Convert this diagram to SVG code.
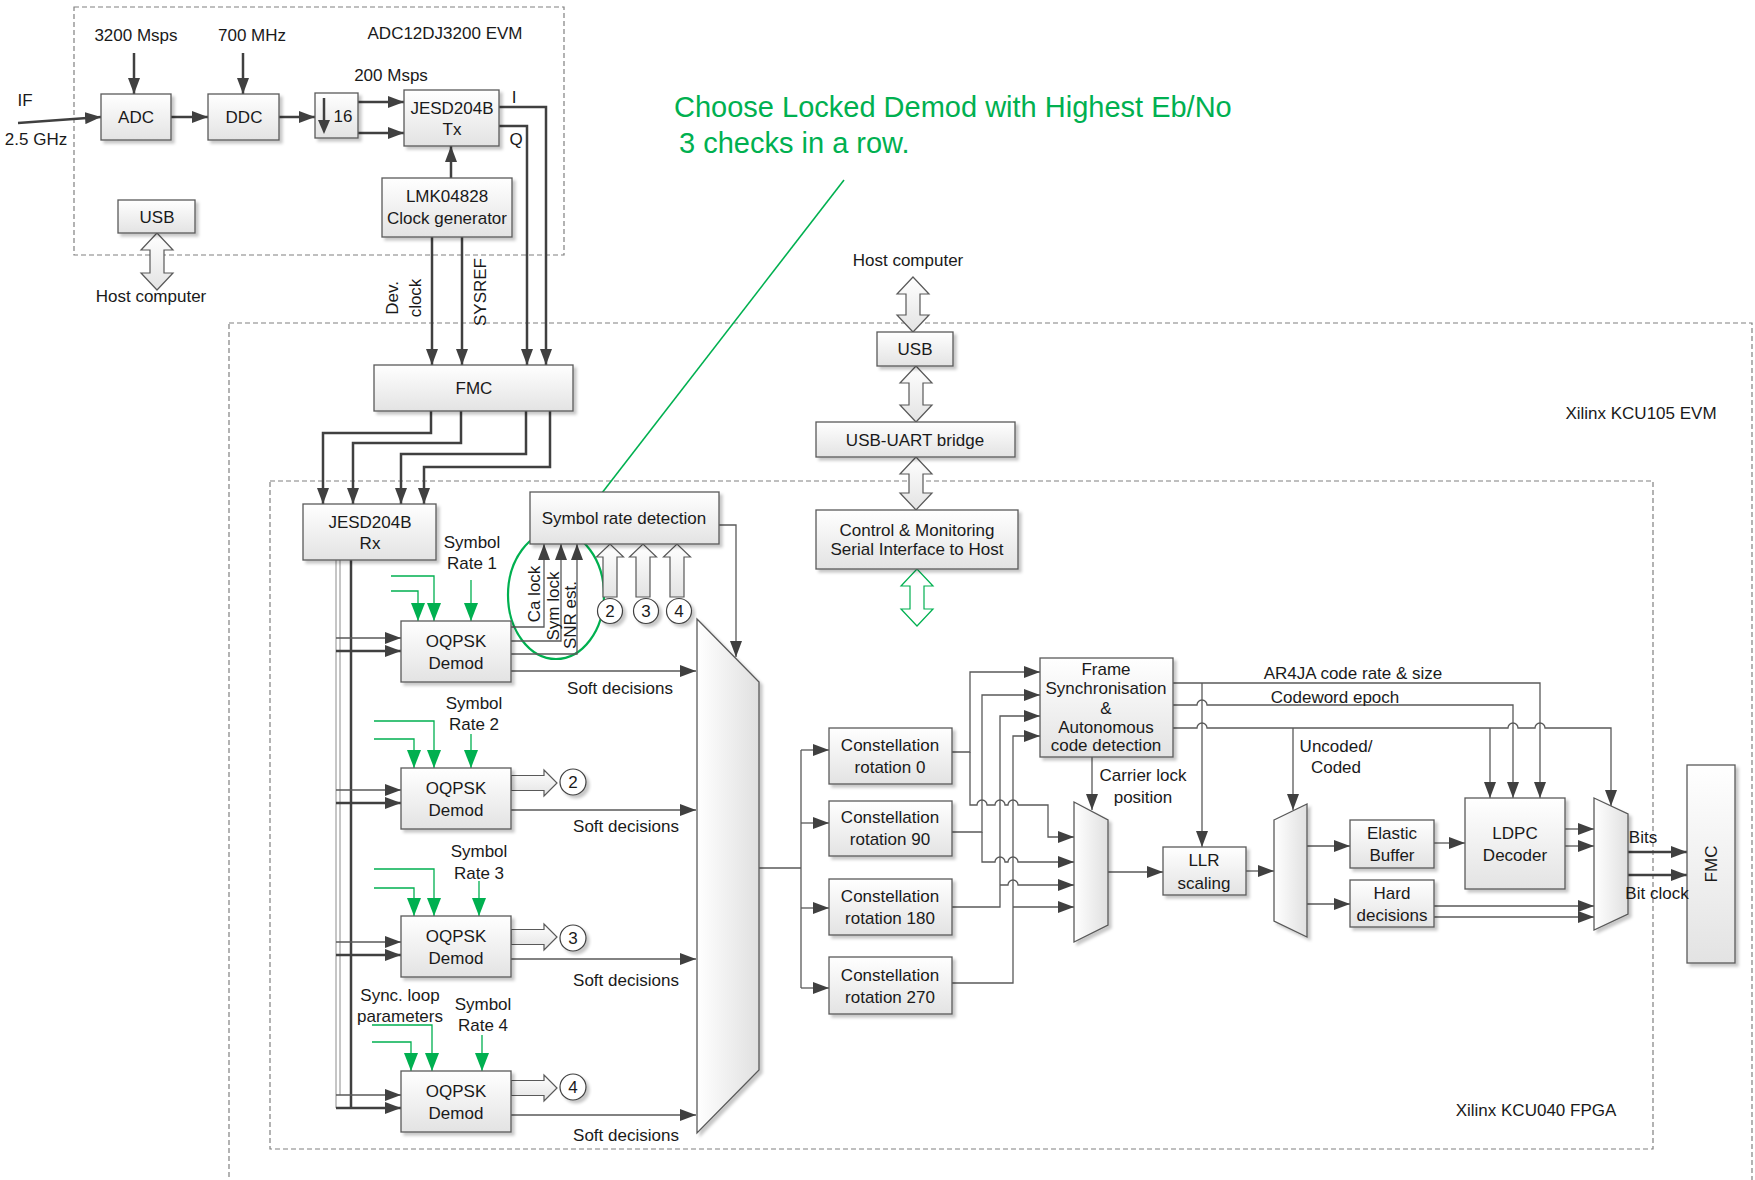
<svg xmlns="http://www.w3.org/2000/svg" width="1755" height="1180" viewBox="0 0 1755 1180">
<defs>
<linearGradient id="gBox" x1="0" y1="0" x2="0" y2="1"><stop offset="0" stop-color="#ffffff"/><stop offset="1" stop-color="#e3e3e3"/></linearGradient>
<linearGradient id="gMux" x1="0" y1="0" x2="1" y2="0"><stop offset="0" stop-color="#ffffff"/><stop offset="1" stop-color="#e0e0e0"/></linearGradient>
<filter id="sh" x="-10%" y="-10%" width="130%" height="130%"><feDropShadow dx="3" dy="3" stdDeviation="1.5" flood-color="#000" flood-opacity="0.22"/></filter>
<marker id="a" markerUnits="userSpaceOnUse" markerWidth="16" markerHeight="12" refX="16" refY="6" orient="auto"><path d="M0,0 L16,6 L0,12 z" fill="#404040"/></marker>
<marker id="ag" markerUnits="userSpaceOnUse" markerWidth="18" markerHeight="14" refX="18" refY="7" orient="auto"><path d="M0,0 L18,7 L0,14 z" fill="#00b050"/></marker>
<style>
.box{fill:url(#gBox);stroke:#595959;stroke-width:1.3;filter:url(#sh)}
.mux{fill:url(#gMux);stroke:#595959;stroke-width:1.3;filter:url(#sh)}
.hol{fill:url(#gBox);stroke:#595959;stroke-width:1.2}
.cir{fill:#fff;stroke:#404040;stroke-width:1.2;filter:url(#sh)}
.t{font-family:"Liberation Sans",Arial,sans-serif;font-size:17px;fill:#1a1a1a;text-anchor:middle;dominant-baseline:central}
.c{fill:none;stroke:#595959;stroke-width:1.3}
.ck{fill:none;stroke:#404040;stroke-width:2.5}
.bt{fill:none;stroke:#8c8c8c;stroke-width:1}
.g{fill:none;stroke:#00b050;stroke-width:1.3}
.dash{fill:none;stroke:#808080;stroke-width:1.2;stroke-dasharray:5 3}
.title{font-family:"Liberation Sans",Arial,sans-serif;font-size:29px;fill:#00b050}
</style>
</defs>
<rect width="1755" height="1180" fill="#ffffff"/>

<g id="containers">
<rect class="dash" x="74" y="7" width="490" height="248"/>
<text class="t" x="445" y="33">ADC12DJ3200 EVM</text>
<rect class="dash" x="229" y="323" width="1523" height="880"/>
<text class="t" x="1641" y="413">Xilinx KCU105 EVM</text>
<rect class="dash" x="270" y="481" width="1383" height="668"/>
<text class="t" x="1536" y="1110">Xilinx KCU040 FPGA</text>
</g>

<g id="annotation">
<text class="title" x="674" y="117">Choose Locked Demod with Highest Eb/No</text>
<text class="title" x="679" y="153">3 checks in a row.</text>
<line x1="571" y1="533" x2="844" y2="180" stroke="#00b050" stroke-width="1.6"/>
<ellipse cx="556" cy="595" rx="48" ry="64" fill="none" stroke="#00b050" stroke-width="2.2"/>
</g>

<g id="connectors">
<path class="ck" d="M134,53 V94" marker-end="url(#a)"/>
<path class="ck" d="M243,53 V94" marker-end="url(#a)"/>
<path class="ck" d="M18,123 L101,117" marker-end="url(#a)"/>
<path class="ck" d="M171,117 H208" marker-end="url(#a)"/>
<path class="ck" d="M279,117 H315" marker-end="url(#a)"/>
<path class="ck" d="M358,102 H404" marker-end="url(#a)"/>
<path class="ck" d="M358,133 H404" marker-end="url(#a)"/>
<path class="ck" d="M451,178 V146" marker-end="url(#a)"/>
<path class="ck" d="M499,107 H546 V365" marker-end="url(#a)"/>
<path class="ck" d="M499,126 H527 V365" marker-end="url(#a)"/>
<path class="ck" d="M432,237 V365" marker-end="url(#a)"/>
<path class="ck" d="M462,237 V365" marker-end="url(#a)"/>
<path class="ck" d="M431,411 V433 H323 V504" marker-end="url(#a)"/>
<path class="ck" d="M461,411 V443 H353 V504" marker-end="url(#a)"/>
<path class="ck" d="M526,411 V454 H401 V504" marker-end="url(#a)"/>
<path class="ck" d="M550,411 V467 H424 V504" marker-end="url(#a)"/>

<path class="bt" d="M336,560 V1108 M340,560 V1095"/>
<path class="ck" d="M351,560 V1108"/>
<path class="c" d="M336,638 H401" marker-end="url(#a)"/>
<path class="c" d="M336,790 H401" marker-end="url(#a)"/>
<path class="c" d="M336,942 H401" marker-end="url(#a)"/>
<path class="c" d="M336,1095 H401" marker-end="url(#a)"/>
<path class="ck" d="M336,651 H401" marker-end="url(#a)"/>
<path class="ck" d="M336,803 H401" marker-end="url(#a)"/>
<path class="ck" d="M336,955 H401" marker-end="url(#a)"/>
<path class="ck" d="M336,1108 H401" marker-end="url(#a)"/>

<path class="g" d="M391,576 H434 V621" marker-end="url(#ag)"/>
<path class="g" d="M391,591 H418 V621" marker-end="url(#ag)"/>
<path class="g" d="M471,580 V621" marker-end="url(#ag)"/>
<path class="g" d="M374,721 H434 V768" marker-end="url(#ag)"/>
<path class="g" d="M374,739 H414 V768" marker-end="url(#ag)"/>
<path class="g" d="M471,734 V768" marker-end="url(#ag)"/>
<path class="g" d="M374,869 H434 V916" marker-end="url(#ag)"/>
<path class="g" d="M374,888 H414 V916" marker-end="url(#ag)"/>
<path class="g" d="M479,881 V916" marker-end="url(#ag)"/>
<path class="g" d="M372,1025 H432 V1071" marker-end="url(#ag)"/>
<path class="g" d="M372,1042 H411 V1071" marker-end="url(#ag)"/>
<path class="g" d="M482,1035 V1071" marker-end="url(#ag)"/>

<path class="c" d="M511,627 H544 V544" marker-end="url(#a)"/>
<path class="c" d="M511,641 H561 V544" marker-end="url(#a)"/>
<path class="c" d="M511,654 H577 V544" marker-end="url(#a)"/>
<path class="c" d="M511,671 H696" marker-end="url(#a)"/>
<path class="c" d="M511,810 H696" marker-end="url(#a)"/>
<path class="c" d="M511,959 H696" marker-end="url(#a)"/>
<path class="c" d="M511,1115 H696" marker-end="url(#a)"/>
<path class="c" d="M719,525 H736 V657" marker-end="url(#a)"/>

<path class="c" d="M759,868 H801 M801,750 V988"/>
<path class="c" d="M801,750 H829" marker-end="url(#a)"/>
<path class="c" d="M801,823 H829" marker-end="url(#a)"/>
<path class="c" d="M801,908 H829" marker-end="url(#a)"/>
<path class="c" d="M801,988 H829" marker-end="url(#a)"/>

<path class="c" d="M952,752 H970 V672 H1040" marker-end="url(#a)"/>
<path class="c" d="M970,752 V805 H977 a5,5 0 0 1 10,0 H995 a5,5 0 0 1 10,0 H1008 a5,5 0 0 1 10,0 H1048 V837 H1074" marker-end="url(#a)"/>
<path class="c" d="M952,832 H982 V695 H1040" marker-end="url(#a)"/>
<path class="c" d="M982,832 V862 H995 a5,5 0 0 1 10,0 H1008 a5,5 0 0 1 10,0 H1074" marker-end="url(#a)"/>
<path class="c" d="M952,907 H1000 V716 H1040" marker-end="url(#a)"/>
<path class="c" d="M1000,885 H1008 a5,5 0 0 1 10,0 H1074" marker-end="url(#a)"/>
<path class="c" d="M952,983 H1013 V736 H1040" marker-end="url(#a)"/>
<path class="c" d="M1013,907 H1074" marker-end="url(#a)"/>

<path class="c" d="M1092,757 V810" marker-end="url(#a)"/>
<path class="c" d="M1108,872 H1163" marker-end="url(#a)"/>
<path class="c" d="M1173,683 H1540 V798" marker-end="url(#a)"/>
<path class="c" d="M1202,683 V847" marker-end="url(#a)"/>
<path class="c" d="M1173,705 H1197 a5,5 0 0 1 10,0 H1513 V798" marker-end="url(#a)"/>
<path class="c" d="M1173,728 H1197 a5,5 0 0 1 10,0 H1508 a5,5 0 0 1 10,0 H1535 a5,5 0 0 1 10,0 H1611 V806" marker-end="url(#a)"/>
<path class="c" d="M1293,728 V810" marker-end="url(#a)"/>
<path class="c" d="M1490,728 V798" marker-end="url(#a)"/>
<path class="c" d="M1246,871 H1274" marker-end="url(#a)"/>
<path class="c" d="M1307,846 H1350" marker-end="url(#a)"/>
<path class="c" d="M1307,904 H1350" marker-end="url(#a)"/>
<path class="c" d="M1434,843 H1465" marker-end="url(#a)"/>
<path class="c" d="M1565,829 H1594" marker-end="url(#a)"/>
<path class="c" d="M1565,846 H1594" marker-end="url(#a)"/>
<path class="c" d="M1434,906 H1594" marker-end="url(#a)"/>
<path class="c" d="M1434,917 H1594" marker-end="url(#a)"/>
<path class="ck" d="M1628,852 H1687" marker-end="url(#a)"/>
<path class="ck" d="M1628,875 H1687" marker-end="url(#a)"/>

<polygon class="hol" points="157,233 173,250 164,250 164,273 173,273 157,290 141,273 150,273 150,250 141,250"/>
<polygon class="hol" points="913,277 929,294 920,294 920,315 929,315 913,332 897,315 906,315 906,294 897,294"/>
<polygon class="hol" points="916,366 932,383 923,383 923,405 932,405 916,422 900,405 909,405 909,383 900,383"/>
<polygon class="hol" points="916,457 932,474 923,474 923,493 932,493 916,510 900,493 909,493 909,474 900,474"/>
<polygon points="917,569 933,586 924,586 924,609 933,609 917,626 901,609 910,609 910,586 901,586" fill="#fff" stroke="#00b050" stroke-width="1.2"/>
<polygon class="hol" points="603,597 603,557 596.5,557 610,544 623.5,557 617,557 617,597"/>
<polygon class="hol" points="636,597 636,557 629.5,557 643,544 656.5,557 650,557 650,597"/>
<polygon class="hol" points="670,597 670,557 663.5,557 677,544 690.5,557 684,557 684,597"/>
<polygon class="hol" points="511,775.5 544,775.5 544,770 557,783 544,796 544,790.5 511,790.5"/>
<polygon class="hol" points="511,929.5 544,929.5 544,924 557,937 544,950 544,944.5 511,944.5"/>
<polygon class="hol" points="511,1080.5 544,1080.5 544,1075 557,1088 544,1101 544,1095.5 511,1095.5"/>
</g>

<g id="adc"><rect class="box" x="101" y="94" width="70" height="46"/><text class="t" x="136" y="117">ADC</text></g>
<g id="ddc"><rect class="box" x="208" y="94" width="71" height="46"/><text class="t" x="244" y="117">DDC</text></g>
<g id="decim"><rect class="box" x="315" y="93" width="43" height="45"/><path d="M324,98 V121" stroke="#404040" stroke-width="2.5"/><path d="M318,120 L330,120 L324,134 z" fill="#404040"/><text class="t" x="343" y="116">16</text></g>
<g id="jesd-tx"><rect class="box" x="404" y="90" width="95" height="56"/><text class="t" x="452" y="108">JESD204B</text><text class="t" x="452" y="129">Tx</text></g>
<g id="lmk"><rect class="box" x="382" y="178" width="130" height="59"/><text class="t" x="447" y="196">LMK04828</text><text class="t" x="447" y="218">Clock generator</text></g>
<g id="usb-adc"><rect class="box" x="118" y="200" width="77" height="33"/><text class="t" x="157" y="217">USB</text></g>
<g id="fmc-top"><rect class="box" x="374" y="365" width="199" height="46"/><text class="t" x="474" y="388">FMC</text></g>
<g id="jesd-rx"><rect class="box" x="303" y="504" width="133" height="56"/><text class="t" x="370" y="522">JESD204B</text><text class="t" x="370" y="543">Rx</text></g>
<g id="srd"><rect class="box" x="530" y="492" width="189" height="52"/><text class="t" x="624" y="518">Symbol rate detection</text></g>
<g id="usb-kcu"><rect class="box" x="877" y="332" width="76" height="34"/><text class="t" x="915" y="349">USB</text></g>
<g id="uart"><rect class="box" x="816" y="422" width="199" height="35"/><text class="t" x="915" y="440">USB-UART bridge</text></g>
<g id="ctrl"><rect class="box" x="816" y="510" width="202" height="59"/><text class="t" x="917" y="530">Control &amp; Monitoring</text><text class="t" x="917" y="549">Serial Interface to Host</text></g>

<g id="demod1"><rect class="box" x="401" y="621" width="110" height="61"/><text class="t" x="456" y="641">OQPSK</text><text class="t" x="456" y="663">Demod</text></g>
<g id="demod2"><rect class="box" x="401" y="768" width="110" height="61"/><text class="t" x="456" y="788">OQPSK</text><text class="t" x="456" y="810">Demod</text></g>
<g id="demod3"><rect class="box" x="401" y="916" width="110" height="61"/><text class="t" x="456" y="936">OQPSK</text><text class="t" x="456" y="958">Demod</text></g>
<g id="demod4"><rect class="box" x="401" y="1071" width="110" height="61"/><text class="t" x="456" y="1091">OQPSK</text><text class="t" x="456" y="1113">Demod</text></g>

<g id="c2"><circle class="cir" cx="610" cy="611" r="12.5"/><text class="t" x="610" y="611">2</text></g>
<g id="c3"><circle class="cir" cx="646" cy="611" r="12.5"/><text class="t" x="646" y="611">3</text></g>
<g id="c4"><circle class="cir" cx="679" cy="611" r="12.5"/><text class="t" x="679" y="611">4</text></g>
<g id="c2b"><circle class="cir" cx="573" cy="782" r="13"/><text class="t" x="573" y="782">2</text></g>
<g id="c3b"><circle class="cir" cx="573" cy="938" r="13"/><text class="t" x="573" y="938">3</text></g>
<g id="c4b"><circle class="cir" cx="573" cy="1087" r="13"/><text class="t" x="573" y="1087">4</text></g>

<g id="mux1"><polygon class="mux" points="697,619 759,682 759,1070 697,1133"/></g>
<g id="rot0"><rect class="box" x="829" y="728" width="123" height="56"/><text class="t" x="890" y="745">Constellation</text><text class="t" x="890" y="767">rotation 0</text></g>
<g id="rot90"><rect class="box" x="829" y="801" width="123" height="55"/><text class="t" x="890" y="817">Constellation</text><text class="t" x="890" y="839">rotation 90</text></g>
<g id="rot180"><rect class="box" x="829" y="879" width="123" height="56"/><text class="t" x="890" y="896">Constellation</text><text class="t" x="890" y="918">rotation 180</text></g>
<g id="rot270"><rect class="box" x="829" y="957" width="123" height="57"/><text class="t" x="890" y="975">Constellation</text><text class="t" x="890" y="997">rotation 270</text></g>
<g id="framesync"><rect class="box" x="1040" y="658" width="133" height="99"/><text class="t" x="1106" y="669">Frame</text><text class="t" x="1106" y="688">Synchronisation</text><text class="t" x="1106" y="708">&amp;</text><text class="t" x="1106" y="727">Autonomous</text><text class="t" x="1106" y="745">code detection</text></g>
<g id="mux2"><polygon class="mux" points="1074,802 1108,820 1108,925 1074,942"/></g>
<g id="llr"><rect class="box" x="1163" y="847" width="83" height="48"/><text class="t" x="1204" y="860">LLR</text><text class="t" x="1204" y="883">scaling</text></g>
<g id="mux3"><polygon class="mux" points="1274,820 1307,804 1307,937 1274,921"/></g>
<g id="elastic"><rect class="box" x="1350" y="820" width="84" height="48"/><text class="t" x="1392" y="833">Elastic</text><text class="t" x="1392" y="855">Buffer</text></g>
<g id="hard"><rect class="box" x="1350" y="880" width="84" height="47"/><text class="t" x="1392" y="893">Hard</text><text class="t" x="1392" y="915">decisions</text></g>
<g id="ldpc"><rect class="box" x="1465" y="798" width="100" height="91"/><text class="t" x="1515" y="833">LDPC</text><text class="t" x="1515" y="855">Decoder</text></g>
<g id="mux4"><polygon class="mux" points="1594,798 1628,814 1628,914 1594,930"/></g>
<g id="fmc-right"><rect class="box" x="1687" y="765" width="48" height="198"/><text class="t" transform="translate(1711,864) rotate(-90)">FMC</text></g>

<g id="labels">
<text class="t" x="136" y="35">3200 Msps</text>
<text class="t" x="252" y="35">700 MHz</text>
<text class="t" x="391" y="75">200 Msps</text>
<text class="t" x="25" y="100">IF</text>
<text class="t" x="36" y="139">2.5 GHz</text>
<text class="t" x="514" y="97">I</text>
<text class="t" x="516" y="139">Q</text>
<text class="t" x="151" y="296">Host computer</text>
<text class="t" transform="translate(392,298) rotate(-90)">Dev.</text>
<text class="t" transform="translate(415,298) rotate(-90)">clock</text>
<text class="t" transform="translate(480,292) rotate(-90)">SYSREF</text>
<text class="t" x="908" y="260">Host computer</text>
<text class="t" x="472" y="542">Symbol</text>
<text class="t" x="472" y="563">Rate 1</text>
<text class="t" x="474" y="703">Symbol</text>
<text class="t" x="474" y="724">Rate 2</text>
<text class="t" x="479" y="851">Symbol</text>
<text class="t" x="479" y="873">Rate 3</text>
<text class="t" x="400" y="995">Sync. loop</text>
<text class="t" x="400" y="1016">parameters</text>
<text class="t" x="483" y="1004">Symbol</text>
<text class="t" x="483" y="1025">Rate 4</text>
<text class="t" transform="translate(534,594) rotate(-90)">Ca lock</text>
<text class="t" transform="translate(553,606) rotate(-90)">Sym lock</text>
<text class="t" transform="translate(570,615) rotate(-90)">SNR est.</text>
<text class="t" x="620" y="688">Soft decisions</text>
<text class="t" x="626" y="826">Soft decisions</text>
<text class="t" x="626" y="980">Soft decisions</text>
<text class="t" x="626" y="1135">Soft decisions</text>
<text class="t" x="1143" y="775">Carrier lock</text>
<text class="t" x="1143" y="797">position</text>
<text class="t" x="1353" y="673">AR4JA code rate &amp; size</text>
<text class="t" x="1335" y="697">Codeword epoch</text>
<text class="t" x="1336" y="746">Uncoded/</text>
<text class="t" x="1336" y="767">Coded</text>
<text class="t" x="1643" y="837">Bits</text>
<text class="t" x="1657" y="893">Bit clock</text>
</g>
</svg>
